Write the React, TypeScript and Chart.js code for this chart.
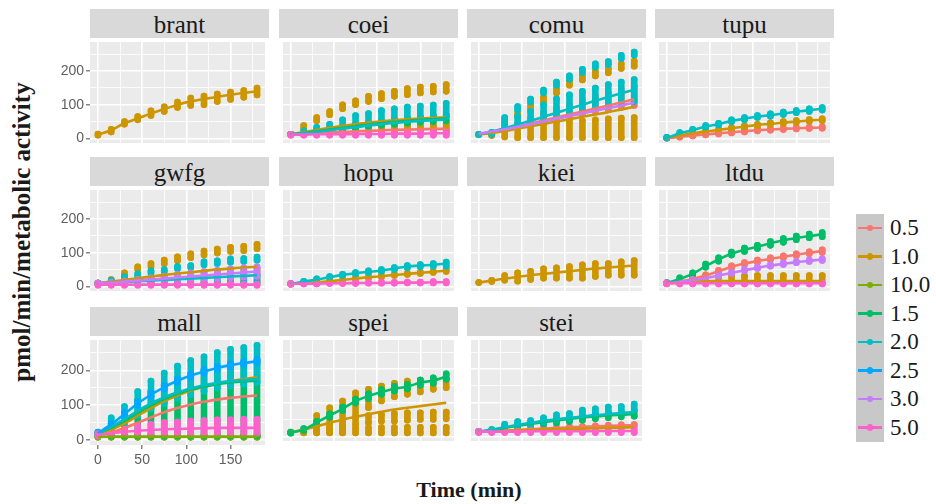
import React, { useEffect, useRef } from 'react';
import { Chart, registerables } from 'chart.js';
Chart.register(...registerables);

// ---------- categories / ticks ----------
const TIMES = [0, 15, 30, 45, 60, 75, 90, 105, 120, 135, 150, 165, 180];
const X_TICKS = [0, 25, 50, 75, 100, 125, 150, 175];
const Y_TICKS = [0, 50, 100, 150, 200, 250];
const LEVELS = ['0.5', '1.0', '10.0', '1.5', '2.0', '2.5', '3.0', '5.0'];
const COLORS = ['#F8766D', '#CD9600', '#7CAE00', '#00BE67', '#00BFC4', '#00A9FF', '#C77CFF', '#FF61CC'];
const PANEL_NAMES = ['brant', 'coei', 'comu', 'tupu', 'gwfg', 'hopu', 'kiei', 'ltdu', 'mall', 'spei', 'stei'];

// ---------- brant ----------
const brant_10_line = [11, 24, 45, 59, 74, 87, 100, 110, 117, 124, 130, 135, 140];
const brant_10_lo = [9, 19, 42, 55, 68, 80, 92, 98, 100, 110, 116, 122, 129];
const brant_10_hi = [13, 27, 50, 65, 82, 94, 108, 120, 126, 132, 138, 142, 150];

// ---------- coei ----------
const coei_05_line = [12, 13, 15, 17, 19, 21, 22, 24, 25, 26, 27, 28, 28];
const coei_05_lo = [12, 12, 13, 14, 15, 16, 17, 18, 19, 20, 21, 22, 22];
const coei_05_hi = [12, 15, 18, 20, 23, 25, 27, 29, 30, 32, 33, 34, 35];
const coei_10_line = [12, 18, 25, 31, 37, 42, 47, 51, 54, 57, 59, 61, 62];
const coei_10_lo = [12, 30, 52, 70, 88, 100, 110, 118, 125, 130, 135, 138, 140];
const coei_10_hi = [12, 38, 62, 80, 100, 112, 125, 133, 140, 148, 153, 155, 160];
const coei_10_lo2 = [12, 12, 12, 13, 13, 13, 14, 14, 14, 15, 15, 15, 15];
const coei_10_hi2 = [12, 16, 20, 24, 28, 30, 32, 34, 36, 38, 40, 42, 44];
const coei_15_line = [12, 16, 21, 26, 31, 36, 41, 45, 49, 52, 55, 57, 59];
const coei_15_lo = [12, 14, 18, 22, 27, 31, 35, 39, 42, 45, 48, 50, 52];
const coei_15_hi = [12, 18, 24, 30, 36, 41, 46, 52, 56, 60, 64, 67, 70];
const coei_20_line = [12, 15, 19, 24, 29, 33, 38, 42, 46, 49, 52, 54, 56];
const coei_20_lo = [12, 16, 22, 28, 35, 40, 45, 50, 55, 58, 60, 62, 65];
const coei_20_hi = [12, 22, 33, 42, 55, 68, 74, 83, 88, 93, 96, 99, 104];
const coei_50_line = [11, 11, 12, 12, 12, 13, 13, 13, 14, 14, 14, 15, 15];
const coei_50_lo = [9, 9, 9, 9, 9, 9, 9, 9, 9, 9, 9, 9, 9];
const coei_50_hi = [12, 12, 13, 13, 14, 14, 15, 15, 16, 16, 17, 17, 18];

// ---------- comu ----------
const comu_05_line = [12, 18, 26, 35, 44, 53, 62, 71, 80, 89, 98, 107, 116];
const comu_05_lo = [11, 12, 20, 30, 40, 50, 58, 65, 72, 80, 86, 92, 98];
const comu_05_hi = [11, 16, 30, 45, 60, 75, 88, 100, 112, 125, 135, 145, 155];
const comu_10_line = [12, 16, 22, 29, 36, 43, 50, 57, 64, 71, 78, 86, 94];
const comu_10_lo = [11, 12, 40, 65, 88, 110, 135, 158, 174, 186, 195, 208, 215];
const comu_10_hi = [11, 15, 48, 75, 98, 122, 148, 170, 186, 200, 208, 222, 230];
const comu_10_lo2 = [11, 8, 4, 2, 2, 2, 2, 2, 2, 2, 2, 2, 2];
const comu_10_hi2 = [11, 15, 25, 35, 40, 45, 48, 50, 52, 55, 58, 60, 62];
const comu_20_line = [12, 20, 30, 41, 52, 64, 76, 88, 100, 112, 123, 134, 145];
const comu_20_lo = [11, 14, 55, 85, 108, 135, 158, 176, 196, 212, 220, 238, 248];
const comu_20_hi = [11, 18, 62, 95, 117, 144, 168, 186, 206, 222, 229, 247, 257];
const comu_20_lo2 = [11, 12, 30, 40, 50, 60, 70, 78, 85, 92, 98, 104, 110];
const comu_20_hi2 = [11, 14, 45, 65, 80, 100, 118, 130, 140, 150, 160, 168, 175];
const comu_30_line = [14, 20, 27, 34, 42, 50, 58, 66, 74, 82, 90, 98, 106];

// ---------- tupu ----------
const tupu_05_line = [0, 4, 8, 12, 15, 18, 21, 24, 26, 28, 30, 31, 32];
const tupu_05_lo = [0, 3, 7, 10, 13, 16, 19, 22, 24, 26, 28, 29, 30];
const tupu_05_hi = [1, 6, 10, 14, 17, 20, 23, 26, 28, 30, 32, 33, 34];
const tupu_10_line = [1, 8, 15, 20, 25, 30, 35, 40, 43, 47, 50, 53, 55];
const tupu_10_lo = [1, 7, 13, 18, 23, 28, 33, 37, 41, 44, 47, 50, 52];
const tupu_10_hi = [2, 10, 17, 22, 27, 32, 37, 42, 46, 50, 53, 56, 58];
const tupu_20_line = [1, 15, 24, 35, 42, 52, 58, 65, 69, 74, 79, 84, 88];
const tupu_20_lo = [1, 13, 22, 32, 40, 49, 55, 62, 66, 71, 76, 80, 84];
const tupu_20_hi = [3, 17, 27, 38, 45, 55, 62, 68, 73, 78, 83, 88, 92];

// ---------- gwfg ----------
const gwfg_10_line = [9, 14, 19, 24, 29, 34, 38, 42, 46, 50, 53, 56, 58];
const gwfg_10_lo = [8, 15, 32, 50, 58, 67, 76, 85, 93, 99, 104, 106, 112];
const gwfg_10_hi = [10, 20, 40, 58, 68, 78, 88, 97, 105, 111, 116, 119, 125];
const gwfg_10_lo2 = [8, 8, 9, 10, 10, 11, 11, 12, 12, 13, 13, 14, 14];
const gwfg_10_hi2 = [10, 14, 18, 22, 26, 30, 34, 38, 42, 45, 48, 50, 52];
const gwfg_20_line = [9, 11, 13, 15, 17, 19, 21, 23, 25, 27, 29, 31, 33];
const gwfg_20_lo = [8, 14, 24, 32, 40, 44, 52, 56, 64, 68, 72, 74, 78];
const gwfg_20_hi = [10, 18, 28, 37, 46, 50, 59, 62, 73, 76, 82, 83, 87];
const gwfg_20_lo2 = [8, 8, 8, 8, 9, 9, 9, 9, 10, 10, 10, 10, 10];
const gwfg_20_hi2 = [10, 12, 14, 16, 18, 20, 22, 24, 26, 28, 30, 32, 34];
const gwfg_30_line = [9, 11, 14, 17, 20, 23, 26, 29, 32, 35, 38, 41, 44];
const gwfg_30_lo = [8, 9, 10, 12, 14, 16, 18, 20, 22, 24, 26, 28, 30];
const gwfg_30_hi = [10, 12, 16, 20, 25, 30, 35, 40, 44, 48, 52, 55, 58];
const gwfg_50_line = [5, 5, 5, 5, 5, 5, 5, 5, 5, 5, 5, 5, 5];
const gwfg_50_lo = [3, 3, 3, 3, 3, 3, 3, 3, 3, 3, 3, 3, 3];
const gwfg_50_hi = [6, 6, 6, 6, 6, 6, 6, 6, 6, 6, 6, 6, 6];

// ---------- hopu ----------
const hopu_10_line = [7, 9, 12, 15, 19, 23, 27, 30, 34, 37, 40, 43, 47];
const hopu_10_lo = [6, 8, 11, 14, 17, 21, 25, 28, 32, 35, 38, 41, 44];
const hopu_10_hi = [8, 10, 13, 16, 20, 25, 29, 32, 36, 39, 42, 45, 50];
const hopu_20_line = [7, 14, 20, 27, 34, 39, 43, 47, 53, 59, 62, 64, 68];
const hopu_20_lo = [7, 13, 19, 26, 32, 37, 41, 45, 50, 55, 58, 60, 60];
const hopu_20_hi = [8, 15, 22, 29, 36, 41, 46, 50, 56, 62, 65, 68, 72];
const hopu_50_line = [7, 8, 8, 9, 9, 10, 10, 10, 11, 11, 11, 12, 12];
const hopu_50_lo = [6, 7, 7, 8, 8, 8, 9, 9, 9, 10, 10, 10, 10];
const hopu_50_hi = [8, 9, 9, 10, 10, 11, 11, 12, 12, 13, 13, 14, 14];

// ---------- kiei ----------
const kiei_10_line = [11, 17, 23, 28, 33, 37, 41, 45, 49, 53, 56, 59, 62];
const kiei_10_lo = [11, 14, 18, 15, 20, 24, 24, 24, 24, 29, 33, 33, 33];
const kiei_10_hi = [11, 18, 32, 40, 45, 52, 55, 59, 64, 68, 68, 73, 77];

// ---------- ltdu ----------
const ltdu_05_line = [9, 15, 22, 32, 45, 58, 68, 75, 82, 88, 94, 100, 105];
const ltdu_05_lo = [8, 13, 20, 30, 42, 55, 65, 72, 79, 85, 91, 97, 101];
const ltdu_05_hi = [10, 17, 24, 34, 48, 61, 71, 78, 85, 91, 97, 103, 109];
const ltdu_10_line = [9, 11, 14, 15, 16, 16, 16, 16, 16, 16, 16, 16, 16];
const ltdu_10_lo = [8, 9, 9, 9, 9, 9, 9, 9, 9, 9, 9, 9, 9];
const ltdu_10_hi = [10, 14, 28, 30, 30, 31, 31, 32, 32, 32, 32, 32, 32];
const ltdu_15_line = [9, 22, 37, 60, 80, 97, 109, 118, 128, 137, 144, 150, 155];
const ltdu_15_lo = [8, 20, 33, 57, 75, 93, 104, 113, 122, 131, 139, 145, 148];
const ltdu_15_hi = [11, 25, 40, 66, 85, 102, 114, 122, 133, 142, 150, 156, 160];
const ltdu_30_line = [9, 13, 18, 24, 32, 40, 48, 55, 62, 67, 72, 76, 80];
const ltdu_30_lo = [8, 12, 16, 22, 30, 38, 46, 53, 60, 65, 70, 74, 77];
const ltdu_30_hi = [10, 14, 20, 26, 34, 42, 50, 57, 64, 69, 74, 78, 82];
const ltdu_50_line = [9, 9, 9, 9, 9, 9, 9, 9, 9, 9, 9, 9, 9];
const ltdu_50_lo = [7, 7, 7, 7, 7, 7, 7, 7, 7, 7, 7, 7, 7];
const ltdu_50_hi = [10, 10, 10, 10, 10, 10, 10, 10, 10, 10, 10, 10, 10];

// ---------- mall ----------
const mall_05_line = [15, 22, 35, 50, 65, 80, 92, 102, 110, 116, 121, 125, 128];
const mall_10_line = [18, 30, 48, 70, 92, 112, 128, 142, 153, 162, 169, 175, 180];
const mall_10_lo = [10, 10, 10, 10, 10, 10, 10, 10, 10, 10, 10, 10, 10];
const mall_10_hi = [14, 14, 14, 14, 14, 14, 14, 14, 14, 14, 14, 14, 14];
const mall_100_line = [10, 10, 10, 10, 10, 10, 10, 10, 10, 10, 10, 10, 10];
const mall_100_lo = [8, 8, 8, 8, 8, 8, 8, 8, 8, 8, 8, 8, 8];
const mall_100_hi = [12, 12, 12, 12, 12, 12, 12, 12, 12, 12, 12, 12, 12];
const mall_15_line = [20, 35, 55, 78, 100, 118, 133, 145, 153, 160, 165, 168, 170];
const mall_15_lo = [12, 12, 12, 12, 12, 12, 12, 12, 12, 12, 12, 12, 12];
const mall_15_hi = [20, 50, 80, 115, 140, 160, 175, 190, 200, 210, 218, 222, 228];
const mall_20_line = [20, 38, 60, 84, 105, 122, 137, 148, 157, 164, 169, 172, 175];
const mall_20_lo = [15, 30, 50, 70, 90, 105, 120, 130, 140, 150, 155, 160, 165];
const mall_20_hi = [23, 64, 96, 139, 169, 192, 212, 228, 239, 251, 260, 265, 272];
const mall_25_line = [20, 45, 75, 105, 130, 152, 170, 185, 197, 207, 215, 221, 226];
const mall_25_lo = [18, 42, 70, 100, 125, 147, 165, 180, 192, 202, 210, 216, 221];
const mall_25_hi = [22, 48, 80, 110, 135, 157, 175, 190, 202, 212, 220, 226, 231];
const mall_50_line = [15, 20, 24, 27, 29, 31, 32, 33, 34, 35, 35, 35, 35];
const mall_50_lo = [12, 15, 18, 20, 20, 20, 20, 20, 20, 20, 20, 20, 20];
const mall_50_hi = [18, 25, 32, 40, 45, 50, 52, 55, 56, 58, 58, 60, 60];

// ---------- spei ----------
const spei_10_line = [12, 20, 30, 40, 50, 58, 66, 73, 80, 85, 90, 95, 100];
const spei_10_lo = [11, 12, 12, 12, 12, 60, 85, 105, 118, 125, 132, 140, 145];
const spei_10_hi = [11, 20, 62, 85, 105, 130, 140, 150, 158, 165, 168, 170, 172];
const spei_10_lo2 = [11, 12, 20, 25, 30, 35, 40, 45, 45, 48, 50, 50, 52];
const spei_10_hi2 = [11, 16, 28, 38, 45, 55, 62, 65, 68, 70, 70, 72, 72];
const spei_10_lo3 = [11, 10, 10, 10, 10, 10, 10, 10, 10, 10, 10, 10, 10];
const spei_10_hi3 = [11, 14, 18, 20, 22, 24, 25, 26, 26, 27, 27, 27, 27];
const spei_15_line = [11, 20, 41, 62, 82, 105, 120, 132, 142, 148, 160, 166, 178];
const spei_15_lo = [9, 17, 37, 57, 77, 99, 113, 125, 135, 141, 152, 158, 170];
const spei_15_hi = [13, 23, 45, 67, 87, 111, 127, 139, 149, 155, 168, 174, 186];

// ---------- stei ----------
const stei_05_line = [14, 15, 17, 19, 21, 23, 25, 27, 28, 30, 31, 32, 33];
const stei_05_lo = [13, 14, 16, 18, 20, 22, 24, 26, 27, 28, 29, 30, 31];
const stei_05_hi = [15, 16, 18, 20, 22, 24, 26, 28, 29, 31, 33, 34, 35];
const stei_10_line = [14, 15, 16, 18, 19, 20, 21, 22, 23, 24, 25, 26, 27];
const stei_15_line = [14, 18, 25, 31, 37, 42, 47, 52, 56, 59, 62, 64, 66];
const stei_15_lo = [13, 15, 22, 28, 32, 36, 40, 44, 48, 52, 55, 58, 60];
const stei_15_hi = [15, 20, 30, 36, 40, 46, 52, 56, 62, 66, 70, 72, 76];
const stei_20_line = [14, 20, 27, 34, 40, 46, 51, 55, 59, 63, 66, 69, 72];
const stei_20_lo = [13, 16, 26, 32, 36, 42, 50, 54, 64, 68, 72, 75, 80];
const stei_20_hi = [15, 18, 36, 44, 47, 55, 64, 68, 78, 82, 87, 89, 96];
const stei_50_line = [14, 14, 14, 14, 15, 15, 15, 15, 15, 16, 16, 16, 16];
const stei_50_lo = [11, 11, 11, 11, 11, 11, 11, 11, 11, 11, 11, 11, 11];
const stei_50_hi = [15, 15, 16, 16, 17, 17, 18, 18, 19, 19, 20, 20, 20];

type Series = { lv: string; line?: number[]; stacks?: number[][][] };

const SERIES: Record<string, Series[]> = {
  brant: [{ lv: '1.0', line: brant_10_line, stacks: [[brant_10_lo, brant_10_hi]] }],
  coei: [
    { lv: '0.5', line: coei_05_line, stacks: [[coei_05_lo, coei_05_hi]] },
    { lv: '1.0', line: coei_10_line, stacks: [[coei_10_lo, coei_10_hi], [coei_10_lo2, coei_10_hi2]] },
    { lv: '1.5', line: coei_15_line, stacks: [[coei_15_lo, coei_15_hi]] },
    { lv: '2.0', line: coei_20_line, stacks: [[coei_20_lo, coei_20_hi]] },
    { lv: '5.0', line: coei_50_line, stacks: [[coei_50_lo, coei_50_hi]] },
  ],
  comu: [
    { lv: '0.5', line: comu_05_line, stacks: [[comu_05_lo, comu_05_hi]] },
    { lv: '1.0', line: comu_10_line, stacks: [[comu_10_lo, comu_10_hi], [comu_10_lo2, comu_10_hi2]] },
    { lv: '2.0', line: comu_20_line, stacks: [[comu_20_lo, comu_20_hi], [comu_20_lo2, comu_20_hi2]] },
    { lv: '3.0', line: comu_30_line },
  ],
  tupu: [
    { lv: '0.5', line: tupu_05_line, stacks: [[tupu_05_lo, tupu_05_hi]] },
    { lv: '1.0', line: tupu_10_line, stacks: [[tupu_10_lo, tupu_10_hi]] },
    { lv: '2.0', line: tupu_20_line, stacks: [[tupu_20_lo, tupu_20_hi]] },
  ],
  gwfg: [
    { lv: '1.0', line: gwfg_10_line, stacks: [[gwfg_10_lo, gwfg_10_hi], [gwfg_10_lo2, gwfg_10_hi2]] },
    { lv: '2.0', line: gwfg_20_line, stacks: [[gwfg_20_lo, gwfg_20_hi], [gwfg_20_lo2, gwfg_20_hi2]] },
    { lv: '3.0', line: gwfg_30_line, stacks: [[gwfg_30_lo, gwfg_30_hi]] },
    { lv: '5.0', line: gwfg_50_line, stacks: [[gwfg_50_lo, gwfg_50_hi]] },
  ],
  hopu: [
    { lv: '1.0', line: hopu_10_line, stacks: [[hopu_10_lo, hopu_10_hi]] },
    { lv: '2.0', line: hopu_20_line, stacks: [[hopu_20_lo, hopu_20_hi]] },
    { lv: '5.0', line: hopu_50_line, stacks: [[hopu_50_lo, hopu_50_hi]] },
  ],
  kiei: [{ lv: '1.0', line: kiei_10_line, stacks: [[kiei_10_lo, kiei_10_hi]] }],
  ltdu: [
    { lv: '0.5', line: ltdu_05_line, stacks: [[ltdu_05_lo, ltdu_05_hi]] },
    { lv: '1.0', line: ltdu_10_line, stacks: [[ltdu_10_lo, ltdu_10_hi]] },
    { lv: '1.5', line: ltdu_15_line, stacks: [[ltdu_15_lo, ltdu_15_hi]] },
    { lv: '3.0', line: ltdu_30_line, stacks: [[ltdu_30_lo, ltdu_30_hi]] },
    { lv: '5.0', line: ltdu_50_line, stacks: [[ltdu_50_lo, ltdu_50_hi]] },
  ],
  mall: [
    { lv: '0.5', line: mall_05_line },
    { lv: '1.0', line: mall_10_line, stacks: [[mall_10_lo, mall_10_hi]] },
    { lv: '10.0', line: mall_100_line, stacks: [[mall_100_lo, mall_100_hi]] },
    { lv: '1.5', line: mall_15_line, stacks: [[mall_15_lo, mall_15_hi]] },
    { lv: '2.0', line: mall_20_line, stacks: [[mall_20_lo, mall_20_hi]] },
    { lv: '2.5', line: mall_25_line, stacks: [[mall_25_lo, mall_25_hi]] },
    { lv: '5.0', line: mall_50_line, stacks: [[mall_50_lo, mall_50_hi]] },
  ],
  spei: [
    { lv: '1.0', line: spei_10_line, stacks: [[spei_10_lo, spei_10_hi], [spei_10_lo2, spei_10_hi2], [spei_10_lo3, spei_10_hi3]] },
    { lv: '1.5', line: spei_15_line, stacks: [[spei_15_lo, spei_15_hi]] },
  ],
  stei: [
    { lv: '0.5', line: stei_05_line, stacks: [[stei_05_lo, stei_05_hi]] },
    { lv: '1.0', line: stei_10_line },
    { lv: '1.5', line: stei_15_line, stacks: [[stei_15_lo, stei_15_hi]] },
    { lv: '2.0', line: stei_20_line, stacks: [[stei_20_lo, stei_20_hi]] },
    { lv: '5.0', line: stei_50_line, stacks: [[stei_50_lo, stei_50_hi]] },
  ],
};

// ---------- layout ----------
const COL_LEFT = [90, 279, 467, 655];
const ROW_TOP = [9, 157, 307];
const PANEL_W = 179;
const PANEL_H = 109;
const STRIP_H = 29;
const YAXIS_W = 34;
const XAXIS_H = 26;
const PT_R = 3.3;

const colorOf = (lv: string) => COLORS[LEVELS.indexOf(lv)];

function buildDatasets(series: Series[]) {
  const sorted = [...series].sort((a, b) => LEVELS.indexOf(a.lv) - LEVELS.indexOf(b.lv));
  const seq: any[] = [];
  sorted.forEach((s) => {
    const c = colorOf(s.lv);
    (s.stacks || []).forEach(([lo, hi]) => {
      seq.push({
        data: TIMES.flatMap((t, k) => [
          { x: t, y: lo[k] },
          { x: t, y: hi[k] },
          { x: t, y: null },
        ]),
        borderColor: c,
        backgroundColor: c,
        borderWidth: PT_R * 2,
        borderCapStyle: 'round',
        pointRadius: PT_R,
        pointBorderWidth: 0,
        pointBackgroundColor: c,
        spanGaps: false,
        tension: 0,
      });
    });
  });
  sorted.forEach((s) => {
    if (!s.line) return;
    const c = colorOf(s.lv);
    const line = s.line;
    seq.push({
      data: TIMES.map((t, k) => ({ x: t, y: line[k] })),
      borderColor: c,
      backgroundColor: c,
      borderWidth: 2.6,
      pointRadius: 0,
      cubicInterpolationMode: 'monotone',
      fill: false,
    });
  });
  const n = seq.length;
  seq.forEach((d, i) => (d.order = n - i));
  return seq;
}

const panelBg = {
  id: 'panelBg',
  beforeDraw(chart: any) {
    const { ctx, chartArea } = chart;
    ctx.save();
    ctx.fillStyle = '#EBEBEB';
    ctx.fillRect(chartArea.left, chartArea.top, chartArea.right - chartArea.left, chartArea.bottom - chartArea.top);
    ctx.restore();
  },
};

const TICK_FONT = { family: '"Liberation Sans", Arial, sans-serif', size: 14 };
const SERIF = '"Liberation Serif", "Times New Roman", serif';

function Panel({ name, index }: { name: string; index: number }) {
  const ref = useRef<HTMLCanvasElement>(null);
  const col = index % 4;
  const row = Math.floor(index / 4);
  const showY = col === 0;
  const showX = name === 'mall';
  const left = COL_LEFT[col] - (showY ? YAXIS_W : 0);
  const top = ROW_TOP[row] + STRIP_H;
  const w = PANEL_W + (showY ? YAXIS_W : 0);
  const h = PANEL_H + (showX ? XAXIS_H : 0);

  useEffect(() => {
    if (!ref.current) return;
    const isMajorX = (v: number) => v % 50 === 0;
    const isMajorY = (v: number) => v % 100 === 0;
    const chart = new Chart(ref.current, {
      type: 'line',
      data: { datasets: buildDatasets(SERIES[name]) },
      options: {
        animation: false,
        responsive: false,
        events: [],
        layout: { padding: 0 },
        plugins: { legend: { display: false }, tooltip: { enabled: false }, title: { display: false } },
        scales: {
          x: {
            type: 'linear',
            min: -9,
            max: 189,
            afterBuildTicks: (s: any) => {
              s.ticks = X_TICKS.map((v) => ({ value: v }));
            },
            afterFit: (s: any) => {
              s.height = showX ? XAXIS_H : 0;
              s.paddingLeft = 0;
              s.paddingRight = 0;
            },
            border: { display: false },
            grid: {
              color: '#FFFFFF',
              lineWidth: (c: any) => (c.tick && isMajorX(c.tick.value) ? 1.6 : 0.8),
              drawTicks: showX,
              tickLength: 4,
              tickWidth: 1.2,
              tickColor: (c: any) => (c.tick && isMajorX(c.tick.value) ? '#666666' : 'rgba(0,0,0,0)'),
            },
            ticks: {
              display: showX,
              autoSkip: false,
              maxRotation: 0,
              padding: 3,
              color: '#5f5f5f',
              font: TICK_FONT,
              callback: (v: any) => (isMajorX(Number(v)) ? String(v) : ''),
            },
          },
          y: {
            type: 'linear',
            min: -14,
            max: 287,
            afterBuildTicks: (s: any) => {
              s.ticks = Y_TICKS.map((v) => ({ value: v }));
            },
            afterFit: (s: any) => {
              s.width = showY ? YAXIS_W : 0;
              s.paddingTop = 0;
              s.paddingBottom = 0;
            },
            border: { display: false },
            grid: {
              color: '#FFFFFF',
              lineWidth: (c: any) => (c.tick && isMajorY(c.tick.value) ? 1.6 : 0.8),
              drawTicks: showY,
              tickLength: 4,
              tickWidth: 1.2,
              tickColor: (c: any) => (c.tick && isMajorY(c.tick.value) ? '#666666' : 'rgba(0,0,0,0)'),
            },
            ticks: {
              display: showY,
              autoSkip: false,
              padding: 2,
              color: '#5f5f5f',
              font: TICK_FONT,
              callback: (v: any) => (isMajorY(Number(v)) ? String(v) : ''),
            },
          },
        },
      } as any,
      plugins: [panelBg],
    });
    return () => chart.destroy();
  }, [name, showX, showY]);

  return (
    <>
      <div
        style={{
          position: 'absolute',
          left: COL_LEFT[col],
          top: ROW_TOP[row],
          width: PANEL_W,
          height: STRIP_H,
          background: '#D9D9D9',
          color: '#1A1A1A',
          fontFamily: SERIF,
          fontSize: 25,
          lineHeight: '31px',
          textAlign: 'center',
          overflow: 'hidden',
        }}
      >
        {name}
      </div>
      <canvas
        ref={ref}
        width={w}
        height={h}
        style={{ position: 'absolute', left, top, width: w, height: h }}
      />
    </>
  );
}

export default function App() {
  const legendTop = 228;
  const legendStep = 28.5;
  return (
    <div style={{ position: 'absolute', left: 0, top: 0, width: 936, height: 504, background: '#FFFFFF', overflow: 'hidden' }}>
      {PANEL_NAMES.map((n, i) => (
        <Panel key={n} name={n} index={i} />
      ))}
      <div
        style={{
          position: 'absolute',
          left: 22,
          top: 232,
          transform: 'translate(-50%, -50%) rotate(-90deg)',
          whiteSpace: 'nowrap',
          fontFamily: SERIF,
          fontWeight: 'bold',
          fontSize: 25,
          color: '#1A1A1A',
        }}
      >
        pmol/min/metabolic activity
      </div>
      <div
        style={{
          position: 'absolute',
          left: 369,
          width: 200,
          top: 477,
          textAlign: 'center',
          whiteSpace: 'nowrap',
          fontFamily: SERIF,
          fontWeight: 'bold',
          fontSize: 22,
          color: '#1A1A1A',
        }}
      >
        Time (min)
      </div>
      <div
        style={{
          position: 'absolute',
          left: 856,
          top: legendTop - legendStep / 2,
          width: 28,
          height: legendStep * LEVELS.length,
          background: '#C8C8C8',
        }}
      />
      {LEVELS.map((lv, i) => {
        const cy = legendTop + i * legendStep;
        const c = COLORS[i];
        return (
          <React.Fragment key={lv}>
            <div style={{ position: 'absolute', left: 858, top: cy - 1.3, width: 24, height: 2.6, background: c }} />
            <div
              style={{
                position: 'absolute',
                left: 870 - PT_R,
                top: cy - PT_R,
                width: PT_R * 2,
                height: PT_R * 2,
                borderRadius: '50%',
                background: c,
              }}
            />
            <div
              style={{
                position: 'absolute',
                left: 890,
                top: cy - 14,
                height: 28,
                lineHeight: '28px',
                fontFamily: SERIF,
                fontSize: 23,
                color: '#1A1A1A',
              }}
            >
              {lv}
            </div>
          </React.Fragment>
        );
      })}
    </div>
  );
}
